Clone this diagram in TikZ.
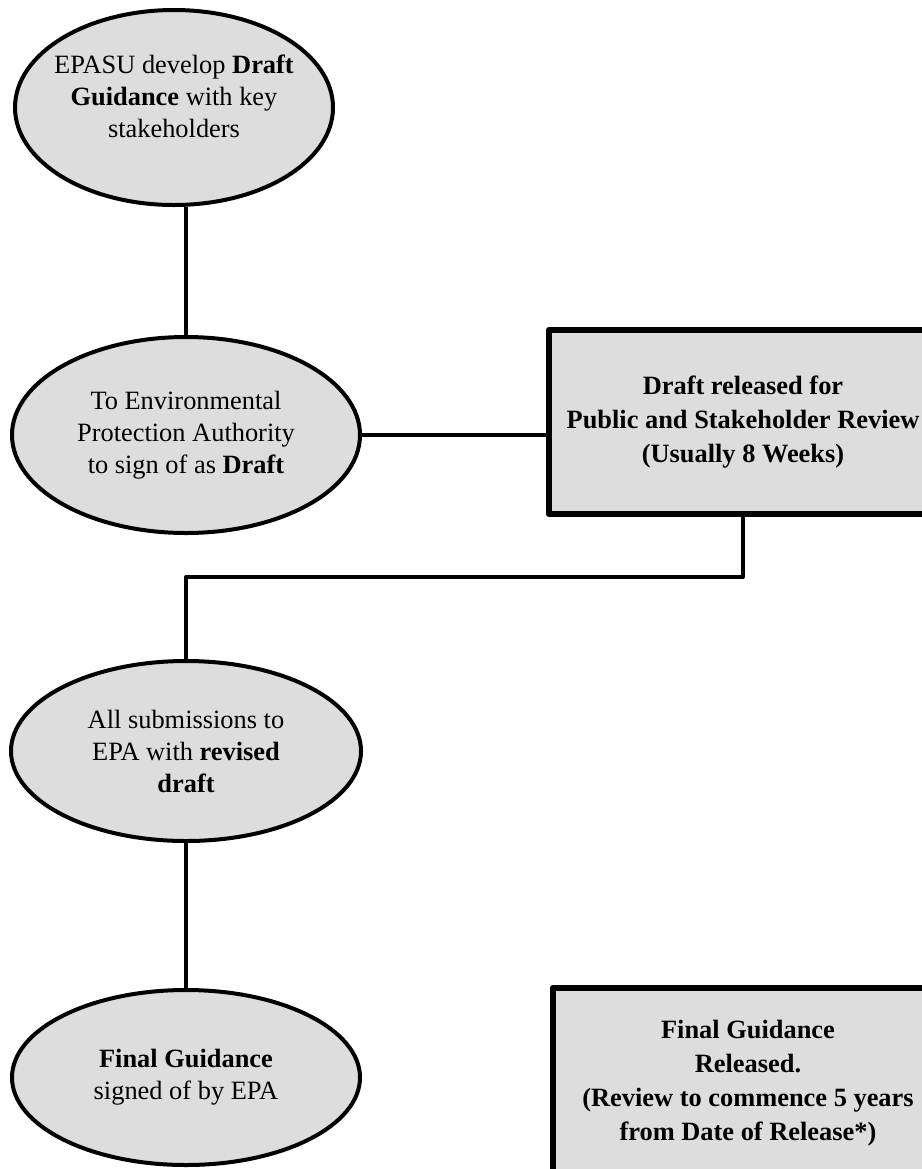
\documentclass[tikz,border=0pt]{standalone}
\usepackage{fontspec}
\setmainfont{Liberation Serif}
\usepackage{xcolor}
\usepackage{tikz}
\usetikzlibrary{shapes.geometric,calc}
\definecolor{fillgray}{RGB}{221,221,221}

\begin{document}
\begin{tikzpicture}[x=0.5pt,y=-0.5pt,line join=round,
  stage/.style={ellipse,draw,line width=2pt,fill=fillgray,inner sep=0pt,align=center,
    font=\fontsize{13.2}{16}\selectfont},
  release/.style={rectangle,draw,line width=3.2pt,fill=fillgray,inner sep=0pt,align=center,
    font=\fontsize{13.2}{17}\selectfont\bfseries},
  link/.style={line width=2pt}]
\useasboundingbox (0,0) rectangle (922,1169);
\clip(0,0) rectangle (922,1169);
% left column
\node [stage,inner xsep=-12pt,minimum width=159pt,minimum height=97.5pt] (develop) at (174,107.5)
  {EPASU develop \textbf{Draft}\\\textbf{Guidance} with key\\stakeholders\\[-5pt]};
\node [stage,minimum width=174pt,minimum height=98pt] (signdraft) at (186,435)
  {To Environmental\\Protection Authority\\to sign of as \textbf{Draft}};
\node [stage,minimum width=175pt,minimum height=90pt] (submit) at (186,751)
  {All submissions to\\EPA with \textbf{revised}\\\textbf{draft}};
\node [stage,minimum width=174pt,minimum height=87.5pt] (signfinal) at (186,1077.5)
  {\textbf{Final Guidance}\\signed of by EPA};
% right column
\node [release,minimum width=194pt,minimum height=92pt] (review) at (743,422)
  {Draft released for\\Public and Stakeholder Review\\(Usually 8 Weeks)};
\node [release,minimum width=195pt,minimum height=95pt] (final) at (748,1083)
  {Final Guidance\\Released.\\(Review to commence 5 years\\from Date of Release*)};
\coordinate (bend) at (186,577);
% connectors
\draw [link] (signdraft.north)-- (signdraft.north |- develop.south);
\draw [link] (signdraft.east)-- (signdraft.east -| review.west);
\draw [link] (review.south) |- (bend)-- (submit.north);
\draw [link] (submit.south)-- (signfinal.north);
\draw [link] ($(signfinal.east)+(0,12)$)-- ($(signfinal.east)+(0,12)$ -| final.west);
\end{tikzpicture}
\end{document}
